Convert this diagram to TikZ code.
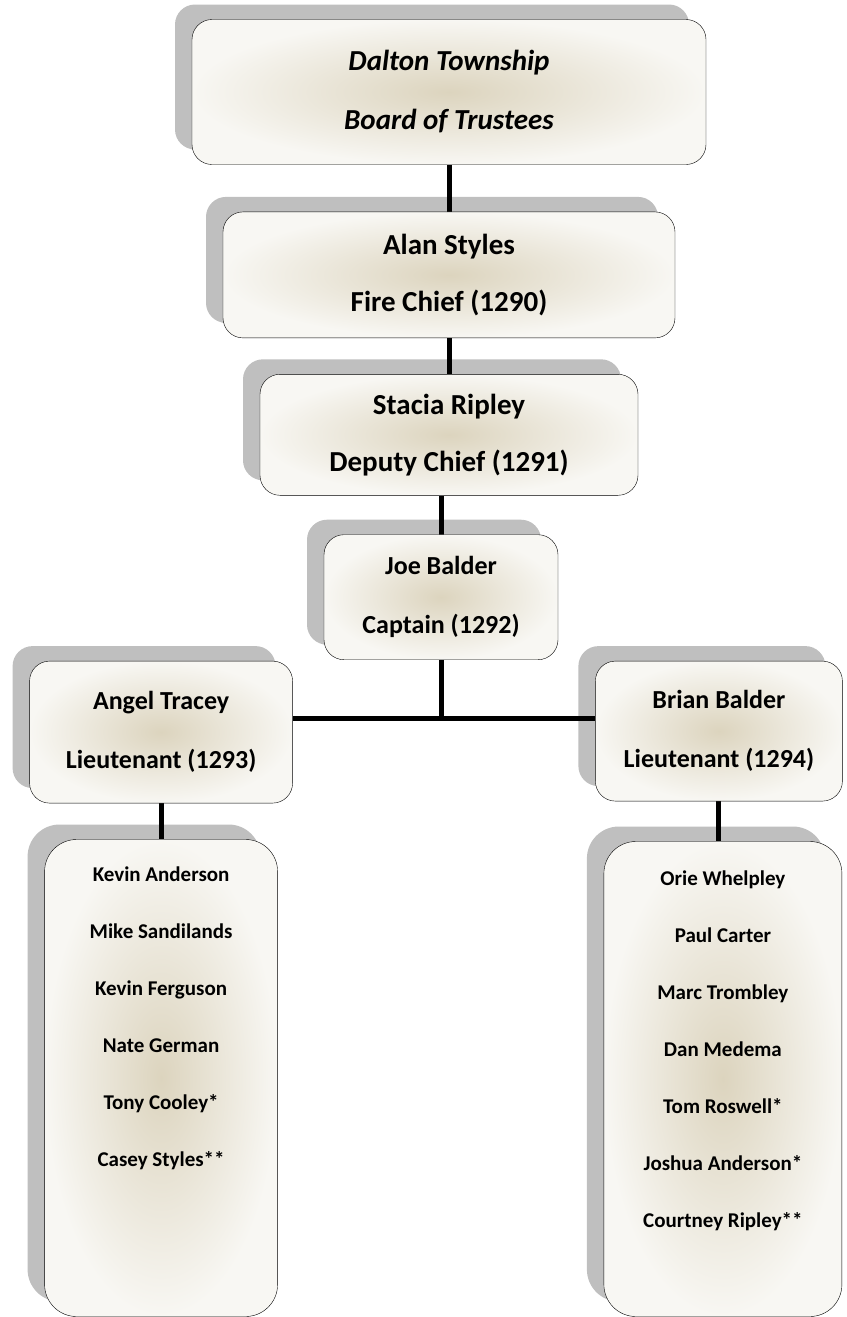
\documentclass[tikz,border=0pt]{standalone}
\usepackage{fontspec}
\setmainfont{Carlito}
\usepackage{xcolor}
\definecolor{Parchment}{HTML}{DCD4BE}
\definecolor{Ivory}{HTML}{F8F7F3}
\colorlet{cTan}{Parchment}
\colorlet{cWhite}{Ivory}
\usepackage{tikz}
\usetikzlibrary{calc, positioning, shadows, backgrounds}
\tikzset{
	node distance = 40pt,
	line width = 2pt,
	font = \bfseries\fontsize{29}{57}\selectfont,
	rank/.style={
		draw,
		rectangle,
		rounded corners=20pt,
		align=center,
		inner sep=0pt,
		inner color=cTan,
		outer color=cWhite,
		general shadow={fill=black, opacity=.25, shadow xshift=-17pt, shadow yshift=15pt}
	},
	junior/.style={
		rank,
		font=\bfseries\fontsize{26}{59}\selectfont
	},
	crew/.style={
		rank,
		rounded corners=32pt,
		font=\bfseries\fontsize{21}{57}\selectfont
	},
	link/.style={
		line width=5pt
	}
}

\begin{document}
\begin{tikzpicture}
	\useasboundingbox (0,0) rectangle (846pt,-1317pt);
	\node (board) [rank, font=\bfseries\itshape\fontsize{29}{59}\selectfont, minimum width=514pt, minimum height=145pt] at (449pt,-92pt) {Dalton Township\\Board of Trustees};
	\node (chief) [rank, minimum width=452pt, minimum height=126pt, below=47pt of board] {Alan Styles\\Fire Chief (1290)};
	\node (deputy) [rank, minimum width=378pt, minimum height=121pt, below=36pt of chief] {Stacia Ripley\\Deputy Chief (1291)};
	\node (captain) [junior, minimum width=234pt, minimum height=125pt, below=39pt of deputy, xshift=-8pt] {Joe Balder\\Captain (1292)};
	\node (lt1) [junior, minimum width=263pt, minimum height=142pt, below left=1pt and 31pt of captain.south west] {Angel Tracey\\Lieutenant (1293)};
	\node (lt2) [junior, minimum width=247pt, minimum height=140pt, below right=1pt and 37pt of captain.south east] {Brian Balder\\Lieutenant (1294)};
	\node (crew1) [crew, below=36pt of lt1] {\parbox[c][477pt][t]{233pt}{\centering\vspace*{27pt}Kevin Anderson\\Mike Sandilands\\Kevin Ferguson\\Nate German\\Tony Cooley*\\Casey Styles**}};
	\node (crew2) [crew, below=40pt of lt2, xshift=4pt] {\parbox[c][475pt][t]{238pt}{\centering\vspace*{29pt}Orie Whelpley\\Paul Carter\\Marc Trombley\\Dan Medema\\Tom Roswell*\\Joshua Anderson*\\Courtney Ripley**}};

	\coordinate (bus) at ($(captain.south)+(0,-59pt)$);
	\begin{pgfonlayer}{background}
		\draw[link] (board) -- (chief)
			(chief) -- (deputy)
			(captain.north) -- (captain.north |- deputy.south)
			(captain) -- (bus)
			(lt1.east |- bus) -- (lt2.west |- bus)
			(lt1) -- (crew1)
			(lt2.south) -- (lt2.south |- crew2.north);
	\end{pgfonlayer}
\end{tikzpicture}
\end{document}
